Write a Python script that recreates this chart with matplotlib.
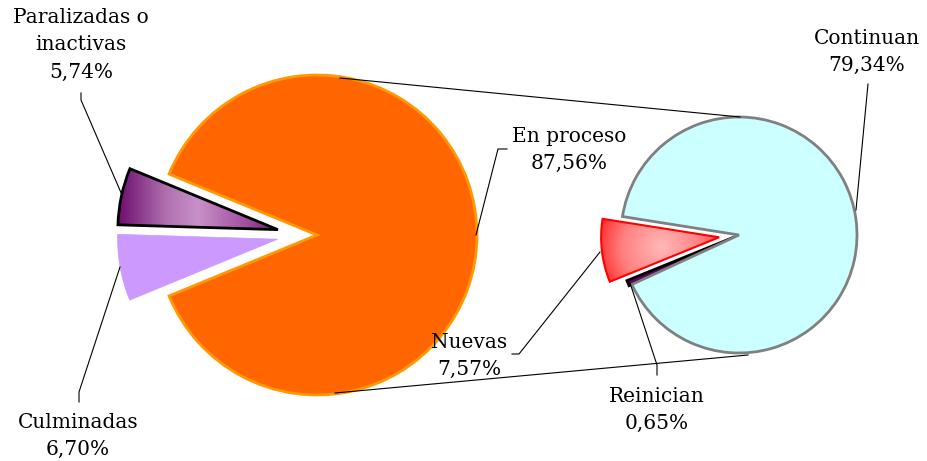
import numpy as np
import matplotlib.pyplot as plt
from matplotlib.colors import LinearSegmentedColormap

# main pie
main_labels = ['Paralizadas o\ninactivas', 'Culminadas', 'En proceso']
main_values = [5.74, 6.70, 87.56]
# second pie: how "En proceso" breaks down
sub_labels = ['Nuevas', 'Reinician', 'Continuan']
sub_values = [7.57, 0.65, 79.34]

W, H = 927, 461
plt.rcParams['font.family'] = 'DejaVu Serif'


def pct(v):
    return f'{v:.2f}'.replace('.', ',') + '%'


def Y(iy):
    # picture rows -> axis units
    return H - iy


def shade(ax, wedge, cmap, kind, focus=None, rad=1.0):
    bb = wedge.get_path().get_extents()
    xs = np.linspace(bb.x0, bb.x1, 200)
    ys = np.linspace(bb.y0, bb.y1, 200)
    X, Yg = np.meshgrid(xs, ys)
    if kind == 'linear':
        t = (X - bb.x0) / (bb.x1 - bb.x0)
    else:
        t = np.clip(np.hypot(X - focus[0], Yg - focus[1]) / rad, 0, 1)
    im = ax.imshow(t, extent=(bb.x0, bb.x1, bb.y0, bb.y1), origin='lower',
                   cmap=cmap, vmin=0, vmax=1, zorder=2, interpolation='bilinear')
    im.set_clip_path(wedge)
    wedge.set_facecolor('none')
    wedge.set_zorder(3)


fig = plt.figure(figsize=(W / 100, H / 100), dpi=100)
ax = fig.add_axes([0, 0, 1, 1])

# left pie, the two small slices pulled out to the left
gap = (main_values[0] + main_values[1]) / sum(main_values) * 360
wl, _ = ax.pie(main_values, center=(317, Y(235)), radius=160,
               startangle=180 - gap / 2, explode=[40, 40, 0],
               colors=['#8B2A8B', '#CC99FF', '#FF6600'], frame=True,
               wedgeprops=dict(linewidth=2))
# excel pulls them out a bit flatter than a pure radial shift
cx, cy = wl[0].center
wl[0].set_center((cx, cy - 3))
cx, cy = wl[1].center
wl[1].set_center((cx, cy + 3))
wl[0].set_edgecolor('black')
wl[1].set_edgecolor('#CC99FF')
wl[1].set_linewidth(0.5)
wl[2].set_edgecolor('#FF9900')

# right pie
wr, _ = ax.pie(sub_values, center=(739, Y(235)), radius=118,
               startangle=171, explode=[20, 3, 0],
               colors=['#FF3030', '#660066', '#CCFFFF'], frame=True,
               wedgeprops=dict(linewidth=2))
wr[0].set_edgecolor('#FF0000')
wr[0].set_linewidth(1.5)
wr[1].set_edgecolor('black')
wr[2].set_edgecolor('#808080')

purple = LinearSegmentedColormap.from_list(
    'purp', [(0, '#6E0E6E'), (0.3, '#B070B0'), (0.5, '#C890C8'), (0.8, '#A050A0'), (1, '#7A1A7A')])
shade(ax, wl[0], purple, 'linear')
reds = LinearSegmentedColormap.from_list('reds', ['#FFB8B8', '#FF8080', '#FF0000'])
shade(ax, wr[0], reds, 'radial', focus=(662, Y(247)), rad=80)

# lines joining the two pies
ax.plot([340, 740], [Y(78), Y(117)], color='black', lw=0.8, zorder=1)
ax.plot([335, 748], [Y(393), Y(355)], color='black', lw=0.8, zorder=1)

txt = dict(ha='center', va='center', fontsize=14.5, linespacing=1.58, color='black')
lead = dict(color='black', lw=0.8, zorder=4)

ax.text(81, Y(45), main_labels[0] + '\n' + pct(main_values[0]), **txt)
ax.plot([81, 81, 122], [Y(93), Y(100), Y(195)], **lead)

ax.text(78, Y(436), main_labels[1] + '\n' + pct(main_values[1]), **txt)
ax.plot([120, 79, 79], [Y(267), Y(392), Y(402)], **lead)

ax.text(569, Y(150), main_labels[2] + '\n' + pct(main_values[2]), **txt)
ax.plot([507, 498, 476], [Y(149), Y(149), Y(235)], **lead)

ax.text(469, Y(356), sub_labels[0] + '\n' + pct(sub_values[0]), **txt)
ax.plot([512, 519, 600], [Y(354), Y(354), Y(252)], **lead)

ax.text(657, Y(410), sub_labels[1] + '\n' + pct(sub_values[1]), **txt)
ax.plot([657, 657, 630], [Y(375), Y(365), Y(283)], **lead)

ax.text(867, Y(52), sub_labels[2] + '\n' + pct(sub_values[2]), **txt)
ax.plot([868, 856], [Y(84), Y(210)], **lead)

ax.set_xlim(0, W)
ax.set_ylim(0, H)
ax.set_aspect('auto')
ax.axis('off')

fig.savefig('out.png', dpi=100, facecolor='white')
